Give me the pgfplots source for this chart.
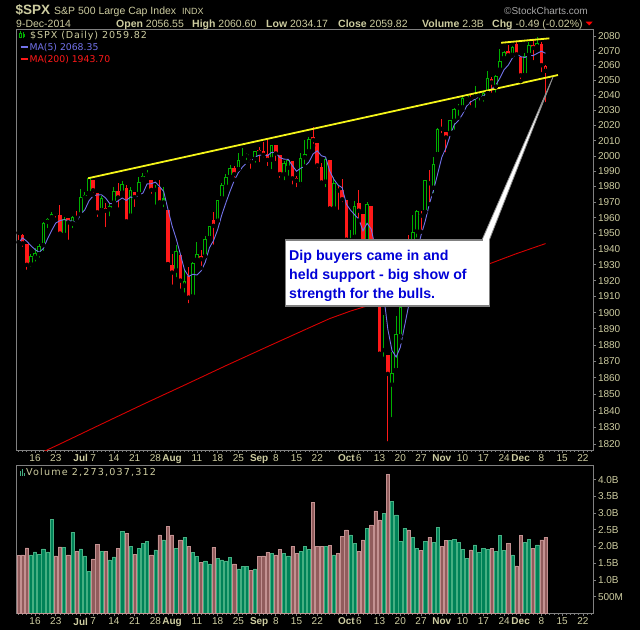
\documentclass[border=0pt]{standalone}
\usepackage{fontspec}
\setmainfont{Liberation Sans}
\newfontfamily\dvs{DejaVu Sans}
\usepackage{pgfplots}
\usepackage{pgfplotstable}
\pgfplotsset{compat=1.18}

\definecolor{khaki}{RGB}{205,204,160}
\definecolor{cgreen}{RGB}{0,175,0}
\definecolor{cred}{RGB}{255,25,25}
\definecolor{ma5col}{RGB}{115,115,235}
\definecolor{ma200col}{RGB}{215,0,0}
\definecolor{vgreen}{RGB}{0,130,88}
\definecolor{vgreenE}{RGB}{70,175,130}
\definecolor{vred}{RGB}{145,92,92}
\definecolor{vredE}{RGB}{195,145,145}
\definecolor{axgray}{RGB}{128,128,128}
\definecolor{tline}{RGB}{245,245,25}
\definecolor{notebl}{RGB}{0,0,215}

\pgfplotstableread{
i O H L C V g k M5
0 1950.34 1950.86 1944.64 1950.79 1.73 0 0 1943.97
1 1949.37 1949.37 1940.08 1943.89 1.75 0 0 1947.17
2 1943.35 1943.35 1925.78 1930.11 1.96 0 0 1945.10
3 1930.80 1937.30 1927.69 1936.16 1.75 1 1 1942.44
4 1934.84 1941.15 1930.91 1937.78 1.84 1 1 1939.75
5 1937.15 1943.69 1933.55 1941.99 1.77 1 1 1937.99
6 1942.73 1957.74 1937.63 1956.98 1.93 1 1 1940.60
7 1957.50 1959.87 1952.26 1959.48 1.84 1 1 1946.48
8 1960.45 1963.91 1959.17 1962.87 2.81 1 1 1951.82
9 1962.92 1963.74 1958.89 1962.61 1.72 0 0 1956.79
10 1961.97 1968.17 1948.34 1949.98 1.99 0 0 1958.38
11 1949.27 1960.83 1947.49 1959.53 1.97 1 1 1958.89
12 1959.89 1959.89 1944.69 1957.22 1.75 0 0 1958.44
13 1956.56 1961.47 1952.18 1960.96 2.43 1 1 1958.06
14 1960.79 1964.24 1958.22 1960.23 1.86 0 0 1957.58
15 1962.29 1978.58 1962.29 1973.32 1.93 1 1 1962.25
16 1973.06 1976.67 1972.58 1974.62 1.72 1 1 1965.27
17 1975.88 1985.59 1975.88 1985.44 1.25 1 1 1970.91
18 1984.22 1984.22 1974.88 1977.65 1.63 0 0 1974.25
19 1976.39 1976.39 1959.46 1963.71 2.07 0 0 1974.95
20 1965.10 1974.15 1965.10 1972.83 1.86 1 1 1974.85
21 1966.67 1969.84 1952.86 1964.68 1.86 0 0 1972.86
22 1965.76 1968.67 1959.63 1967.57 1.60 1 1 1969.29
23 1969.86 1979.85 1969.86 1977.10 1.69 1 1 1969.18
24 1977.36 1982.52 1965.34 1973.28 1.95 0 0 1971.09
25 1976.35 1983.94 1975.67 1981.57 2.45 1 1 1972.84
26 1979.75 1981.80 1955.59 1958.12 2.40 0 0 1971.53
27 1961.54 1979.91 1960.82 1978.22 2.00 1 1 1973.66
28 1976.93 1976.93 1965.77 1973.63 1.77 0 0 1972.96
29 1975.65 1986.24 1975.65 1983.53 1.95 1 1 1975.01
30 1985.32 1989.23 1982.44 1987.01 2.10 1 1 1976.10
31 1988.07 1991.39 1985.79 1987.98 2.15 1 0 1982.07
32 1984.60 1984.60 1974.37 1978.34 1.75 0 0 1982.10
33 1978.25 1981.52 1967.31 1978.91 1.90 1 0 1983.15
34 1980.03 1984.85 1969.95 1969.95 2.35 0 0 1980.44
35 1973.21 1980.20 1965.80 1970.07 2.20 1 0 1977.05
36 1965.14 1965.14 1930.52 1930.67 2.60 0 0 1965.59
37 1929.80 1937.35 1916.37 1925.15 2.35 0 0 1954.95
38 1926.62 1942.92 1921.20 1938.99 1.95 1 1 1946.97
39 1936.34 1936.34 1913.77 1920.21 2.20 0 0 1937.02
40 1917.29 1927.91 1911.45 1920.24 2.28 1 1 1927.05
41 1923.03 1928.89 1904.78 1909.57 2.00 0 0 1922.83
42 1910.35 1932.38 1909.01 1931.59 1.83 1 1 1924.12
43 1933.43 1944.90 1933.43 1936.92 1.70 1 1 1923.71
44 1935.73 1939.65 1928.29 1933.75 1.52 0 0 1926.41
45 1935.60 1948.41 1935.60 1946.72 1.57 1 1 1931.71
46 1947.41 1955.23 1947.41 1955.18 1.48 1 1 1940.83
47 1958.87 1964.04 1941.50 1955.06 1.98 0 0 1945.53
48 1958.36 1971.99 1958.36 1971.74 1.65 1 1 1952.49
49 1972.73 1982.57 1972.73 1981.60 1.60 1 1 1962.06
50 1980.46 1988.57 1977.68 1986.51 1.57 1 1 1970.02
51 1986.82 1994.76 1986.82 1992.37 1.67 1 1 1977.46
52 1992.60 1993.54 1984.76 1988.40 1.48 0 0 1984.12
53 1991.74 2001.95 1991.74 1997.92 1.33 1 1 1989.36
54 1998.59 2005.04 1998.59 2000.02 1.40 1 0 1993.04
55 2000.54 2002.14 1996.20 2000.12 1.40 1 0 1995.77
56 1997.42 1998.55 1990.52 1996.74 1.28 0 0 1996.64
57 1998.45 2003.38 1994.65 2003.37 1.33 1 1 1999.63
58 2004.07 2006.12 1994.85 2002.28 1.70 0 0 2000.51
59 2003.57 2009.28 1998.14 2000.72 1.72 0 0 2000.65
60 2001.67 2011.17 1992.54 1997.65 1.83 0 0 2000.15
61 1998.00 2007.71 1990.10 2007.71 1.80 1 1 2002.35
62 2007.17 2007.17 1995.60 2001.54 1.75 0 0 2001.98
63 2000.73 2001.01 1984.61 1988.44 1.92 0 0 1999.21
64 1988.41 1996.66 1982.99 1995.69 1.79 1 1 1998.21
65 1992.85 1997.65 1985.93 1997.45 1.72 1 1 1998.17
66 1996.74 1996.74 1980.26 1985.54 2.00 0 0 1993.73
67 1986.04 1987.18 1978.48 1984.13 1.80 0 0 1990.25
68 1981.93 2002.28 1979.06 1998.98 1.86 1 1 1992.36
69 1999.30 2010.74 1993.29 2001.57 2.00 1 1 1993.53
70 2003.07 2012.34 2003.07 2011.36 1.92 1 1 1996.32
71 2012.74 2019.26 2006.59 2010.40 3.33 0 0 2001.29
72 2009.08 2009.08 1991.01 1994.29 2.00 0 0 2003.32
73 1992.78 1995.41 1982.77 1982.77 2.00 0 0 2000.08
74 1983.34 1999.79 1978.63 1998.30 2.00 1 1 1999.42
75 1997.32 1997.32 1965.99 1965.99 2.03 0 0 1990.35
76 1966.22 1986.37 1966.22 1982.85 1.75 1 1 1984.84
77 1978.96 1981.28 1964.04 1977.80 1.80 0 0 1981.54
78 1978.21 1985.17 1968.96 1972.29 2.30 0 0 1979.45
79 1971.44 1971.44 1941.72 1946.16 2.50 0 0 1969.02
80 1945.83 1952.32 1926.03 1946.17 2.35 1 0 1965.05
81 1948.12 1971.19 1948.12 1967.90 2.10 1 1 1962.06
82 1970.01 1977.84 1958.43 1964.82 1.85 0 0 1959.47
83 1962.36 1962.36 1935.08 1935.10 2.20 0 0 1952.03
84 1935.55 1970.36 1925.25 1968.89 2.55 1 1 1956.58
85 1967.68 1967.68 1927.56 1928.21 2.65 0 0 1952.98
86 1925.63 1936.98 1906.05 1906.13 3.07 0 0 1940.63
87 1905.65 1912.09 1874.14 1874.74 2.80 0 0 1922.61
88 1877.11 1898.71 1871.79 1877.70 3.00 1 0 1911.13
89 1874.18 1874.18 1820.66 1862.49 4.15 0 0 1889.85
90 1855.95 1876.01 1835.02 1862.76 3.35 1 1 1876.76
91 1864.91 1898.16 1864.91 1886.76 2.95 1 1 1872.89
92 1885.62 1905.03 1882.30 1904.01 2.15 1 1 1878.74
93 1909.38 1942.45 1909.38 1941.28 2.55 1 1 1891.46
94 1941.29 1949.31 1926.83 1927.11 2.50 0 0 1904.38
95 1931.02 1961.95 1931.02 1950.82 2.28 1 1 1922.00
96 1951.59 1965.27 1946.27 1964.58 1.95 1 1 1937.56
97 1962.97 1964.64 1951.37 1961.63 1.88 0 0 1949.08
98 1964.14 1985.05 1964.14 1985.05 2.15 1 1 1957.84
99 1983.29 1991.40 1969.04 1982.30 2.28 0 0 1968.88
100 1979.49 1999.40 1974.75 1994.65 2.13 1 1 1977.64
101 2001.20 2018.19 2001.20 2018.05 2.58 1 1 1988.34
102 2018.21 2024.46 2013.68 2017.81 2.00 0 0 1999.57
103 2015.81 2015.98 2001.01 2012.10 2.18 0 0 2004.98
104 2015.29 2023.77 2014.51 2023.57 2.18 1 1 2013.24
105 2023.33 2031.61 2015.86 2031.21 2.22 1 1 2020.55
106 2032.36 2034.26 2025.07 2031.92 2.12 1 0 2023.32
107 2032.01 2038.70 2030.17 2038.26 1.92 1 1 2027.41
108 2038.20 2041.28 2035.28 2039.68 1.65 1 0 2032.93
109 2037.75 2040.33 2031.95 2038.25 1.90 0 0 2035.86
110 2039.21 2046.18 2030.44 2039.33 2.05 1 0 2037.49
111 2039.74 2042.22 2035.20 2039.82 1.83 1 0 2039.07
112 2038.29 2043.07 2034.46 2041.32 1.95 1 1 2039.68
113 2041.48 2056.08 2041.48 2051.80 1.92 1 1 2042.10
114 2051.16 2052.14 2040.37 2048.72 1.95 0 0 2044.20
115 2045.87 2053.84 2040.49 2052.75 1.85 1 1 2046.88
116 2057.46 2071.46 2056.75 2063.50 2.33 1 1 2051.62
117 2065.07 2070.17 2065.07 2069.41 1.88 1 1 2057.24
118 2070.15 2074.21 2064.75 2067.03 2.10 0 0 2060.28
119 2067.36 2073.29 2066.62 2072.83 1.75 1 1 2065.10
120 2074.78 2075.76 2065.06 2067.56 1.42 0 0 2068.07
121 2065.78 2065.78 2049.57 2053.44 2.33 0 0 2066.05
122 2053.77 2068.77 2053.77 2066.55 2.13 1 1 2065.48
123 2067.45 2076.28 2066.65 2074.33 2.22 1 1 2066.94
124 2073.64 2077.34 2062.34 2071.92 1.95 0 0 2066.76
125 2072.78 2079.47 2070.81 2075.37 2.05 1 1 2068.32
126 2074.84 2075.78 2054.27 2060.31 2.20 0 0 2069.70
127 2056.55 2060.60 2034.17 2059.82 2.27 0 1 2068.35
}\spx

\pgfplotstableread{
i M
6 1815.6
10 1820.3
20 1832.1
30 1843.9
40 1855.7
50 1867.5
60 1879.3
70 1890.8
75 1896.6
80 1901.0
84 1904.4
90 1909.6
100 1918.5
110 1927.5
120 1937.3
127 1943.7
}\mas

\pgfplotsset{
  panel/.style={
    scale only axis, anchor=south west,
    width=576.6pt,
    xmin=-0.42, xmax=138.5,
    axis background/.style={fill=black},
    axis line style={axgray, line width=0.8pt},
    tick style={axgray, line width=0.6pt},
    tick align=outside,
    major tick length=3pt, minor tick length=1.6pt,
    xtick pos=left, ytick pos=right, yticklabel pos=right,
    xtick={4,9,15,18,23,28,33,37,43,48,53,58,62,67,72,79,82,87,92,97,102,107,112,117,121,126,131,136},
    xticklabels={16,23,\textbf{Jul},7,14,21,28,\textbf{Aug},11,18,25,\textbf{Sep},8,15,22,\textbf{Oct},6,13,20,27,\textbf{Nov},10,17,24,\textbf{Dec},8,15,22},
    minor xtick={0,1,...,138},
    ticklabel style={font=\fontsize{10}{12}\selectfont, text=khaki},
    xticklabel style={inner sep=1.5pt},
    yticklabel style={inner sep=1.5pt},
  },
  candle/.style={only marks, mark=none,
    error bars/.cd, y dir=plus, y explicit, error mark=none,
    error bar style={#1}},
}

\begin{document}
\begin{tikzpicture}
\path[use as bounding box] (0,0) rectangle (640pt,630pt);
\fill[black] (0,0) rectangle (640pt,630pt);

% ---------------- price panel (log scale: y = 1000 ln(price) - 7500) ----------------
% candles of the other class are lifted 1000 units, out of the clipped axis area
\begin{axis}[panel, at={(16.7pt,180pt)}, height=420.7pt,
  ymin=4.628, ymax=142.318,
  ytick={6.592,12.071,17.521,22.941,28.332,33.694,39.027,44.332,49.609,54.858,60.080,65.275,70.443,75.585,80.700,85.789,90.852,95.890,100.902,105.890,110.853,115.791,120.705,125.595,130.461,135.304,140.123},
  yticklabels={1820,1830,1840,1850,1860,1870,1880,1890,1900,1910,1920,1930,1940,1950,1960,1970,1980,1990,2000,2010,2020,2030,2040,2050,2060,2070,2080},
]
% MA(200)
\addplot[ma200col, line width=0.9pt, mark=none] table[x=i,y expr={1000*ln(\thisrow{M})-7500}]{\mas};
% wicks
\addplot[candle={line width=1pt, cgreen}]
  table[x=i, y expr={1000*ln(\thisrow{L})-7500+1000*(1-\thisrow{g})}, y error plus expr={1000*ln(\thisrow{H}/\thisrow{L})}]{\spx};
\addplot[candle={line width=1pt, cred}]
  table[x=i, y expr={1000*ln(\thisrow{L})-7500+1000*\thisrow{g}}, y error plus expr={1000*ln(\thisrow{H}/\thisrow{L})}]{\spx};
% bodies
\addplot[candle={line width=3.6pt, cgreen}]
  table[x=i, y expr={1000*ln(min(\thisrow{O},\thisrow{C}))-7500+1000*(1-\thisrow{g})}, y error plus expr={max(1000*ln(max(\thisrow{O},\thisrow{C})/min(\thisrow{O},\thisrow{C})),0.4)}]{\spx};
\addplot[candle={line width=3.6pt, cred}]
  table[x=i, y expr={1000*ln(min(\thisrow{O},\thisrow{C}))-7500+1000*\thisrow{g}}, y error plus expr={max(1000*ln(max(\thisrow{O},\thisrow{C})/min(\thisrow{O},\thisrow{C})),0.4)}]{\spx};
% hollow interiors
\addplot[candle={line width=1.6pt, black, shorten <=1pt, shorten >=1pt}]
  table[x=i, y expr={1000*ln(min(\thisrow{O},\thisrow{C}))-7500+1000*(1-\thisrow{k})}, y error plus expr={1000*ln(max(\thisrow{O},\thisrow{C})/min(\thisrow{O},\thisrow{C}))}]{\spx};
% MA(5)
\addplot[ma5col, line width=0.9pt, mark=none] table[x=i,y expr={1000*ln(\thisrow{M5})-7500}]{\spx};
% trend lines (1985.4 -> 2053.6 ; 2075.4 -> 2078.4)
\draw[tline, line width=1.8pt] (axis cs:16.8,93.576) -- (axis cs:130.0,127.350);
\draw[tline, line width=1.8pt] (axis cs:116.3,137.909) -- (axis cs:127.9,139.354);
\end{axis}

% ---------------- volume panel ----------------
% bars of the other class are sent below zero, out of the clipped axis area
\begin{axis}[panel, at={(16.7pt,16.7pt)}, height=148.3pt,
  ymin=0, ymax=4.44,
  ytick={0.5,1,1.5,2,2.5,3,3.5,4},
  yticklabels={500M,1.0B,1.5B,2.0B,2.5B,3.0B,3.5B,4.0B},
]
\addplot[ybar, bar width=3.2pt, bar shift=0pt, fill=vgreen, draw=vgreenE, line width=0.5pt]
  table[x=i,y expr={\thisrow{V}-10*(1-\thisrow{g})}]{\spx};
\addplot[ybar, bar width=3.2pt, bar shift=0pt, fill=vred, draw=vredE, line width=0.5pt]
  table[x=i,y expr={\thisrow{V}-10*\thisrow{g}}]{\spx};
\end{axis}

% ---------------- annotations and header ----------------
\begin{scope}[x=1pt,y=1pt]
% header line 1
\node[anchor=base west, inner sep=0, text=khaki, font=\bfseries\fontsize{13.5}{15}\selectfont] at (15.5,615.5) {\$SPX};
\node[anchor=base west, inner sep=0, text=khaki, font=\fontsize{10.5}{12}\selectfont] at (54,615.5) {S\&P 500 Large Cap Index};
\node[anchor=base west, inner sep=0, text=khaki, font=\fontsize{9}{10}\selectfont] at (182,615.5) {INDX};
\node[anchor=base west, inner sep=0, text=black!35, font=\fontsize{10}{12}\selectfont] at (504,615.5) {©StockCharts.com};
% header line 2
\node[anchor=base west, inner sep=0, text=khaki, font=\fontsize{10.5}{12}\selectfont] at (16,602.7) {9-Dec-2014};
\node[anchor=base west, inner sep=0, text=khaki, font=\fontsize{10.5}{12}\selectfont] at (116,602.7) {\textbf{Open} 2056.55};
\node[anchor=base west, inner sep=0, text=khaki, font=\fontsize{10.5}{12}\selectfont] at (192,602.7) {\textbf{High} 2060.60};
\node[anchor=base west, inner sep=0, text=khaki, font=\fontsize{10.5}{12}\selectfont] at (266,602.7) {\textbf{Low} 2034.17};
\node[anchor=base west, inner sep=0, text=khaki, font=\fontsize{10.5}{12}\selectfont] at (338,602.7) {\textbf{Close} 2059.82};
\node[anchor=base west, inner sep=0, text=khaki, font=\fontsize{10.5}{12}\selectfont] at (422,602.7) {\textbf{Volume} 2.3B};
\node[anchor=base west, inner sep=0, text=khaki, font=\fontsize{10.5}{12}\selectfont] at (492,602.7) {\textbf{Chg} -0.49 (-0.02\%)};
\fill[red] (585.7,608.3) -- (592.7,608.3) -- (589.2,604.5) -- cycle;
% price legend
\draw[cgreen, line width=0.6pt] (20.5,591.5) -- (20.5,598.5);
\draw[cgreen, line width=0.6pt, fill=black] (19.5,593) rectangle (21.5,597);
\draw[cgreen, line width=0.6pt] (23.5,591.5) -- (23.5,597.5);
\fill[cgreen] (22.5,592.5) rectangle (24.5,596);
\node[anchor=west, inner sep=0, text=khaki, font=\dvs\fontsize{9.6}{11}\selectfont\addfontfeature{LetterSpace=9}] at (30,594) {\$SPX (Daily) 2059.82};
\draw[ma5col, line width=2pt] (20.7,582.7) -- (28.3,582.7);
\node[anchor=west, inner sep=0, text=ma5col, font=\dvs\fontsize{9.3}{11}\selectfont] at (29.3,582.7) {MA(5) 2068.35};
\draw[cred, line width=2pt] (20.7,570.7) -- (28.3,570.7);
\node[anchor=west, inner sep=0, text=cred, font=\dvs\fontsize{9.3}{11}\selectfont] at (29.3,570.7) {MA(200) 1943.70};
% volume legend
\fill[vgreenE] (19.5,154) rectangle (20.8,159);
\fill[vgreenE] (21.5,154) rectangle (22.8,161);
\fill[vgreenE] (23.5,154) rectangle (24.8,157.5);
\node[anchor=west, inner sep=0, text=khaki, font=\dvs\fontsize{9.6}{11}\selectfont\addfontfeature{LetterSpace=12}] at (26,158) {Volume 2,273,037,312};
% callout
\filldraw[fill=white, draw=black!45, line width=0.8pt] (482,390) -- (489.3,390) -- (553,553) -- cycle;
\filldraw[fill=white, draw=black!50, line width=1.2pt] (285.7,390) rectangle (489.3,324);
\fill[white] (482.8,389) rectangle (488.6,391);
\node[anchor=base west, inner sep=0, text=notebl, font=\bfseries\fontsize{14.2}{16}\selectfont] at (289,369.3) {Dip buyers came in and};
\node[anchor=base west, inner sep=0, text=notebl, font=\bfseries\fontsize{14.2}{16}\selectfont] at (289,350) {held support - big show of};
\node[anchor=base west, inner sep=0, text=notebl, font=\bfseries\fontsize{14.2}{16}\selectfont] at (289,331) {strength for the bulls.};
\end{scope}
\end{tikzpicture}
\end{document}
